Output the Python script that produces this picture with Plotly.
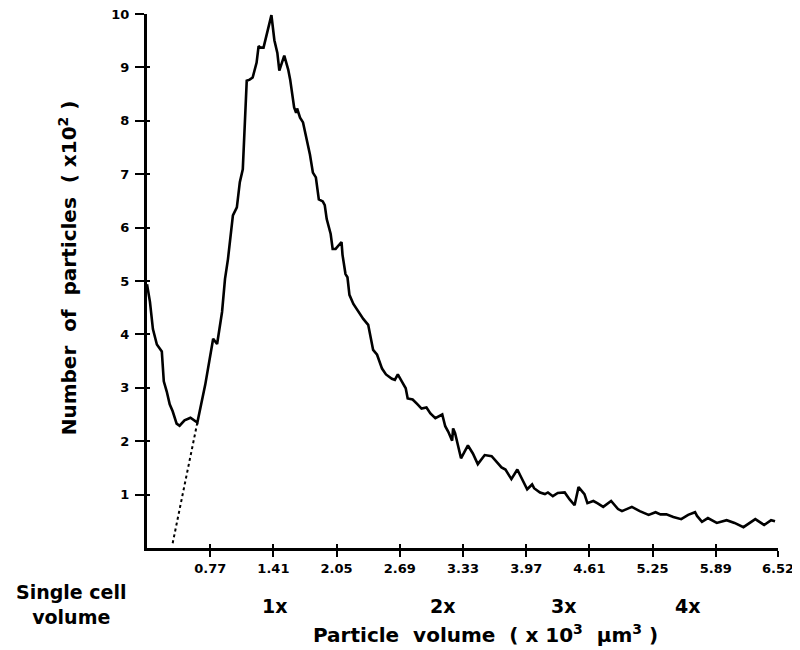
import plotly.graph_objects as go

# particle volume (x10^3 um^3) and number of particles (x10^2)
volume = [0.13, 0.16, 0.19, 0.23, 0.28, 0.30, 0.33, 0.36, 0.39, 0.43, 0.46, 0.51, 0.57, 0.64,
          0.72, 0.80, 0.84, 0.89, 0.92, 0.95, 1.00, 1.04, 1.07, 1.10, 1.14, 1.17, 1.20, 1.24,
          1.26, 1.28, 1.31, 1.39, 1.42, 1.45, 1.47, 1.52, 1.56, 1.58, 1.62, 1.64, 1.65, 1.68,
          1.71, 1.75, 1.78, 1.81, 1.84, 1.87, 1.91, 1.93, 1.95, 1.99, 2.01, 2.04, 2.10, 2.11,
          2.14, 2.16, 2.18, 2.22, 2.27, 2.32, 2.37, 2.39, 2.42, 2.46, 2.51, 2.55, 2.61, 2.64,
          2.67, 2.71, 2.75, 2.77, 2.82, 2.87, 2.91, 2.96, 3.00, 3.05, 3.08, 3.12, 3.15, 3.18,
          3.22, 3.23, 3.25, 3.31, 3.38, 3.43, 3.48, 3.55, 3.62, 3.67, 3.72, 3.76, 3.82, 3.88,
          3.98, 4.03, 4.05, 4.11, 4.16, 4.19, 4.24, 4.29, 4.36, 4.41, 4.46, 4.50, 4.56, 4.59,
          4.65, 4.69, 4.75, 4.83, 4.90, 4.94, 5.04, 5.12, 5.21, 5.28, 5.33, 5.39, 5.46, 5.54,
          5.61, 5.68, 5.70, 5.75, 5.81, 5.90, 6.00, 6.08, 6.17, 6.29, 6.38, 6.45, 6.49]
count = [4.94, 4.61, 4.10, 3.81, 3.68, 3.12, 2.93, 2.69, 2.56, 2.33, 2.29, 2.39, 2.44, 2.35,
         3.06, 3.92, 3.82, 4.42, 5.04, 5.41, 6.23, 6.38, 6.85, 7.09, 8.75, 8.77, 8.81, 9.09,
         9.40, 9.37, 9.37, 9.98, 9.51, 9.27, 8.94, 9.22, 8.96, 8.77, 8.25, 8.15, 8.23, 8.06,
         7.97, 7.65, 7.37, 7.03, 6.94, 6.53, 6.49, 6.42, 6.16, 5.88, 5.60, 5.60, 5.73, 5.49,
         5.13, 5.07, 4.74, 4.57, 4.42, 4.29, 4.18, 3.99, 3.71, 3.62, 3.36, 3.25, 3.17, 3.15,
         3.25, 3.12, 2.99, 2.80, 2.78, 2.69, 2.61, 2.63, 2.52, 2.43, 2.46, 2.50, 2.28, 2.18,
         2.01, 2.24, 2.15, 1.68, 1.92, 1.77, 1.57, 1.74, 1.72, 1.62, 1.51, 1.47, 1.29, 1.47,
         1.10, 1.19, 1.12, 1.04, 1.01, 1.04, 0.97, 1.03, 1.04, 0.91, 0.80, 1.14, 1.01, 0.84,
         0.88, 0.84, 0.77, 0.88, 0.73, 0.69, 0.77, 0.69, 0.62, 0.67, 0.63, 0.63, 0.58, 0.54,
         0.62, 0.67, 0.60, 0.49, 0.56, 0.47, 0.52, 0.47, 0.39, 0.54, 0.43, 0.52, 0.50]

# dotted extrapolation of the single-cell peak
extrap_volume = [0.39, 0.64]
extrap_count = [0.09, 2.35]

x_ticks = [0.77, 1.41, 2.05, 2.69, 3.33, 3.97, 4.61, 5.25, 5.89, 6.52]
x_tick_labels = ["0.77", "1.41", "2.05", "2.69", "3.33", "3.97", "4.61", "5.25", "5.89", "6.52"]
y_ticks = [1, 2, 3, 4, 5, 6, 7, 8, 9, 10]

multiple_labels = ["1x", "2x", "3x", "4x"]
multiple_pos = [1.42, 3.12, 4.35, 5.6]

X_RANGE = [0.13, 6.52]
Y_RANGE = [0, 10]
FONT = "DejaVu Sans"

fig = go.Figure()
fig.add_trace(go.Scatter(x=volume, y=count, mode="lines",
                         line=dict(color="black", width=2.6), showlegend=False,
                         hoverinfo="skip", cliponaxis=False))
fig.add_trace(go.Scatter(x=extrap_volume, y=extrap_count, mode="lines",
                         line=dict(color="black", width=2, dash="dot"), showlegend=False,
                         hoverinfo="skip"))
# helper traces so the overlaid axes (inner tick halves) are drawn
fig.add_trace(go.Scatter(x=[None], y=[None], xaxis="x2", yaxis="y", showlegend=False,
                         hoverinfo="skip"))
fig.add_trace(go.Scatter(x=[None], y=[None], xaxis="x", yaxis="y2", showlegend=False,
                         hoverinfo="skip"))

tickfont = dict(family=FONT, size=13, color="black", weight="bold")

fig.update_layout(
    width=800, height=650,
    margin=dict(l=139, r=30, t=6, b=110, autoexpand=False),
    paper_bgcolor="white", plot_bgcolor="white",
    xaxis=dict(range=X_RANGE, tickvals=x_ticks, ticktext=x_tick_labels, automargin=False,
               showgrid=False, zeroline=False, showline=True, linecolor="black",
               linewidth=3, ticks="outside", ticklen=6, tickwidth=2, tickcolor="black",
               tickfont=tickfont, ticklabelstandoff=0, ticklabeloverflow="allow"),
    xaxis2=dict(range=X_RANGE, overlaying="x", anchor="y", side="bottom", automargin=False,
                tickvals=x_ticks, showticklabels=False, showgrid=False, zeroline=False,
                showline=False, ticks="inside", ticklen=4, tickwidth=2, tickcolor="black"),
    yaxis=dict(range=Y_RANGE, tickvals=y_ticks, showgrid=False, zeroline=False,
               automargin=False,
               showline=True, linecolor="black", linewidth=3, ticks="outside",
               ticklen=9, tickwidth=2, tickcolor="black", tickfont=tickfont,
               ticklabelstandoff=3, ticklabeloverflow="allow"),
    yaxis2=dict(range=Y_RANGE, overlaying="y", anchor="x", side="left", automargin=False,
                tickvals=y_ticks, showticklabels=False, showgrid=False, zeroline=False,
                showline=False, ticks="inside", ticklen=3, tickwidth=2, tickcolor="black"),
)

title_font = dict(family=FONT, size=20, color="black", weight="bold")

fig.add_annotation(text="Number  of  particles  ( x10<sup>2</sup> )", textangle=-90,
                   xref="paper", yref="paper", x=-0.125, y=0.524,
                   xanchor="center", yanchor="middle", showarrow=False, font=title_font)
fig.add_annotation(text="Particle  volume  ( x 10<sup>3</sup>  µm<sup>3</sup> )",
                   xref="paper", yref="paper", x=0.536, y=0, yshift=-86,
                   xanchor="center", yanchor="middle", showarrow=False, font=title_font)
fig.add_annotation(text="Single cell<br>volume", xref="paper", yref="paper",
                   x=-0.119, y=0, yshift=-56, xanchor="center", yanchor="middle",
                   showarrow=False, align="center",
                   font=dict(family=FONT, size=19, color="black", weight="bold"))
for lab, pos in zip(multiple_labels, multiple_pos):
    fig.add_annotation(text=lab, xref="x", yref="paper", x=pos, y=0, yshift=-58,
                       xanchor="center", yanchor="middle", showarrow=False,
                       font=dict(family=FONT, size=19, color="black", weight="bold"))

fig.write_html("out.html")
